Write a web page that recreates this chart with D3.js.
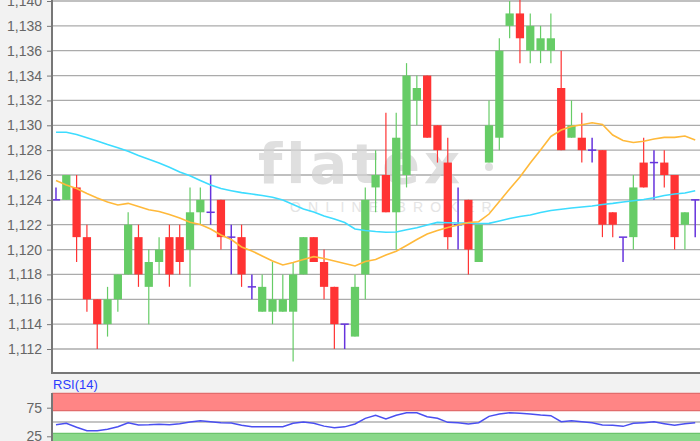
<!DOCTYPE html>
<html><head><meta charset="utf-8">
<script src="https://cdnjs.cloudflare.com/ajax/libs/d3/7.8.5/d3.min.js"></script>
<style>html,body{margin:0;padding:0;background:#f2f2f2;overflow:hidden}svg{display:block}</style>
</head><body><svg id="c" width="700" height="441"></svg>
<script>
// ---- data ----
const openV  = [1.124,1.124,1.125,1.121,1.116,1.114,1.116,1.118,1.121,1.117,1.119,1.121,1.121,1.120,1.123,1.123,1.124,1.121,1.121,1.117,1.115,1.115,1.115,1.115,1.118,1.121,1.119,1.117,1.114,1.113,1.118,1.125,1.126,1.123,1.126,1.132,1.134,1.130,1.127,1.122,1.124,1.119,1.127,1.129,1.138,1.139,1.136,1.136,1.136,1.133,1.129,1.129,1.128,1.128,1.123,1.121,1.121,1.127,1.127,1.127,1.126,1.122,1.124];
const highV  = [1.125,1.126,1.126,1.122,1.116,1.117,1.118,1.123,1.122,1.120,1.121,1.122,1.122,1.125,1.125,1.126,1.124,1.122,1.122,1.118,1.118,1.119,1.118,1.119,1.121,1.121,1.120,1.117,1.114,1.118,1.125,1.128,1.131,1.131,1.135,1.134,1.134,1.130,1.129,1.125,1.124,1.122,1.132,1.137,1.140,1.1405,1.139,1.138,1.139,1.136,1.132,1.131,1.129,1.128,1.123,1.121,1.126,1.129,1.128,1.128,1.126,1.123,1.124];
const lowV   = [1.124,1.124,1.119,1.115,1.112,1.113,1.115,1.118,1.117,1.114,1.118,1.117,1.118,1.117,1.122,1.122,1.120,1.118,1.117,1.116,1.115,1.114,1.115,1.111,1.118,1.119,1.116,1.112,1.112,1.113,1.116,1.123,1.123,1.120,1.125,1.130,1.129,1.127,1.120,1.120,1.118,1.119,1.127,1.128,1.137,1.135,1.135,1.135,1.135,1.128,1.129,1.127,1.127,1.121,1.121,1.119,1.120,1.125,1.124,1.125,1.120,1.120,1.121];
const closeV = [1.124,1.126,1.121,1.116,1.114,1.116,1.118,1.122,1.118,1.119,1.120,1.118,1.119,1.123,1.124,1.123,1.121,1.121,1.118,1.117,1.117,1.116,1.116,1.118,1.121,1.119,1.117,1.114,1.114,1.117,1.124,1.126,1.123,1.129,1.134,1.133,1.129,1.128,1.121,1.122,1.120,1.122,1.130,1.136,1.139,1.137,1.138,1.137,1.137,1.128,1.130,1.128,1.128,1.122,1.122,1.121,1.125,1.125,1.127,1.126,1.121,1.123,1.124];
const maShort = [1.12556,1.12520,1.12491,1.12451,1.12415,1.12383,1.12359,1.12372,1.12347,1.12321,1.12306,1.12282,1.12254,1.12219,1.12202,1.12166,1.12117,1.12081,1.12021,1.11989,1.11948,1.11908,1.11876,1.11896,1.11920,1.11943,1.11928,1.11908,1.11888,1.11868,1.11904,1.11920,1.11956,1.11987,1.12033,1.12081,1.12125,1.12153,1.12178,1.12198,1.12218,1.12224,1.12286,1.12387,1.12487,1.12584,1.12697,1.12801,1.12910,1.12962,1.12990,1.13004,1.13020,1.13006,1.12922,1.12878,1.12862,1.12871,1.12890,1.12903,1.12903,1.12914,1.12882];
const maLong = [1.12944,1.12944,1.12926,1.12900,1.12874,1.12845,1.12819,1.12791,1.12757,1.12726,1.12697,1.12662,1.12624,1.12594,1.12556,1.12520,1.12491,1.12474,1.12458,1.12447,1.12435,1.12421,1.12399,1.12363,1.12326,1.12302,1.12270,1.12246,1.12218,1.12166,1.12153,1.12145,1.12139,1.12141,1.12160,1.12176,1.12198,1.12219,1.12216,1.12214,1.12214,1.12210,1.12211,1.12230,1.12250,1.12266,1.12278,1.12298,1.12314,1.12324,1.12335,1.12343,1.12351,1.12363,1.12372,1.12383,1.12393,1.12403,1.12417,1.12435,1.12447,1.12455,1.12474];
const rsiV = [45.3,47.9,40.7,34.8,34.8,37.2,41.7,48.8,44.8,45.2,46.1,45.2,47.1,50.2,52.3,50.6,48.8,48.3,44.3,41.8,41.8,41.8,41.8,47.7,50,47.7,42.8,40.1,41.5,46.5,56.4,61.7,55.2,61.7,66.3,66.3,59.3,56.4,49.4,48.8,46.5,48.8,59.9,64,66.3,65.2,64,62.2,61.1,50.6,52.3,50.6,48.5,44.8,44.2,42.4,47.7,48.8,50.3,47.1,44.2,47.1,48.8];
const priceTicks = [1.112,1.114,1.116,1.118,1.120,1.122,1.124,1.126,1.128,1.130,1.132,1.134,1.136,1.138,1.140];
const rsiTicks = [75,25];
const rsiLabel = "RSI(14)";

// ---- layout ----
const svg = d3.select("#c");
const L = 52, R = 700, mainTop = 0, mainBot = 373, rsiTop = 393, rsiBot = 441;
const idx = d3.range(openV.length);
const x = d3.scaleBand().domain(idx).range([49.8, 701.4]).paddingInner(0.2).paddingOuter(0.2);
const y = d3.scaleLinear().domain([1.112, 1.140]).range([349, 1]);
const yr = d3.scaleLinear().domain([0, 100]).range([450.6, 393.4]);
const cx = i => x(i) + x.bandwidth() / 2;
const loc = d3.formatLocale({decimal: ",", thousands: ".", grouping: [3], currency: ["", "€"]});
const fmt = loc.format(".3f");

svg.append("defs").append("clipPath").attr("id", "mc")
  .append("rect").attr("x", L).attr("y", mainTop).attr("width", R - L).attr("height", mainBot - mainTop);

// main panel
svg.append("rect").attr("x", L).attr("y", mainTop).attr("width", R - L).attr("height", mainBot - mainTop).attr("fill", "#fff");
const grid = svg.append("g");
grid.selectAll("line").data(priceTicks).join("line")
  .attr("x1", L).attr("x2", R).attr("y1", d => y(d)).attr("y2", d => y(d))
  .attr("stroke", "#ababab").attr("stroke-width", 1.3);

// watermark
const wm = svg.append("g").attr("clip-path", "url(#mc)");
wm.append("text").attr("x", 258).attr("y", 183).text("flatex")
  .attr("font-family", "'DejaVu Sans', sans-serif").attr("font-weight", "bold").attr("font-size", 56)
  .attr("letter-spacing", 4).attr("fill", "#d2d2d2").attr("opacity", 0.7);
wm.append("circle").attr("cx", 489).attr("cy", 167).attr("r", 4).attr("fill", "#d2d2d2").attr("opacity", 0.7);
wm.append("text").attr("x", 290).attr("y", 212).text("ONLINE BROKER")
  .attr("font-family", "'Liberation Sans', Arial, sans-serif").attr("font-size", 14)
  .attr("letter-spacing", 7.2).attr("fill", "#e4e4e4");

// y axis
const ya = svg.append("g").attr("transform", `translate(${L},0)`)
  .call(d3.axisLeft(y).tickValues(priceTicks).tickFormat(fmt).tickSize(5).tickPadding(5));
ya.select(".domain").remove();
ya.selectAll(".tick line").attr("stroke", "#777");
ya.selectAll(".tick text").attr("fill", "#666").attr("font-size", 14).attr("font-family", "'Liberation Sans', Arial, sans-serif");

// candles
const cg = svg.append("g").attr("clip-path", "url(#mc)");
const colorOf = i => closeV[i] > openV[i] ? "#66cc66" : (closeV[i] < openV[i] ? "#ff3333" : "#6633dd");
cg.selectAll("line.wick").data(idx).join("line").attr("class", "wick")
  .attr("x1", cx).attr("x2", cx).attr("y1", i => y(highV[i])).attr("y2", i => y(lowV[i]))
  .attr("stroke", colorOf).attr("stroke-width", i => openV[i] === closeV[i] ? 1.5 : 1.2);
cg.selectAll("rect.body").data(idx.filter(i => openV[i] !== closeV[i])).join("rect").attr("class", "body")
  .attr("x", i => x(i)).attr("width", x.bandwidth())
  .attr("y", i => y(Math.max(openV[i], closeV[i])))
  .attr("height", i => Math.abs(y(openV[i]) - y(closeV[i])))
  .attr("fill", colorOf);
cg.selectAll("line.doji").data(idx.filter(i => openV[i] === closeV[i])).join("line").attr("class", "doji")
  .attr("x1", i => x(i)).attr("x2", i => x(i) + x.bandwidth())
  .attr("y1", i => y(openV[i])).attr("y2", i => y(openV[i]))
  .attr("stroke", "#6633dd").attr("stroke-width", 1.5);

// moving averages
const line = d3.line().x((d, i) => cx(i)).y(d => y(d));
cg.append("path").datum(maLong).attr("d", line).attr("fill", "none").attr("stroke", "#3ddcff").attr("stroke-width", 1.6);
cg.append("path").datum(maShort).attr("d", line).attr("fill", "none").attr("stroke", "#ffb93a").attr("stroke-width", 1.6);

// main frame
svg.append("line").attr("x1", L).attr("x2", L).attr("y1", 0).attr("y2", mainBot).attr("stroke", "#777").attr("stroke-width", 2);
svg.append("line").attr("x1", L - 1).attr("x2", R).attr("y1", mainBot).attr("y2", mainBot).attr("stroke", "#777").attr("stroke-width", 2);

// RSI panel
svg.append("rect").attr("x", L).attr("y", rsiTop).attr("width", R - L).attr("height", rsiBot - rsiTop + 20).attr("fill", "#fff");
svg.append("rect").attr("x", L).attr("y", yr(100)).attr("width", R - L).attr("height", yr(70) - yr(100)).attr("fill", "#ff8585");
svg.append("rect").attr("x", L).attr("y", yr(30)).attr("width", R - L).attr("height", yr(0) - yr(30)).attr("fill", "#8ad88a");
[[100, "#e26c6c"], [70, "#e26c6c"], [30, "#6cc46c"], [50, "#b0b0b0"]].forEach(([v, c]) =>
  svg.append("line").attr("x1", L).attr("x2", R).attr("y1", yr(v)).attr("y2", yr(v)).attr("stroke", c).attr("stroke-width", 1.3));
svg.append("path").datum(rsiV).attr("fill", "none").attr("stroke", "#4a4ff0").attr("stroke-width", 1.5)
  .attr("d", d3.line().x((d, i) => cx(i)).y(d => yr(d)));
const ra = svg.append("g").attr("transform", `translate(${L},0)`)
  .call(d3.axisLeft(yr).tickValues(rsiTicks).tickSize(5).tickPadding(5));
ra.select(".domain").remove();
ra.selectAll(".tick line").attr("stroke", "#777");
ra.selectAll(".tick text").attr("fill", "#666").attr("font-size", 14).attr("font-family", "'Liberation Sans', Arial, sans-serif");
svg.append("line").attr("x1", L).attr("x2", L).attr("y1", rsiTop).attr("y2", rsiBot).attr("stroke", "#777").attr("stroke-width", 2);
svg.append("text").attr("x", 53).attr("y", 389).text(rsiLabel)
  .attr("fill", "#2b3cff").attr("font-size", 13).attr("font-family", "'Liberation Sans', Arial, sans-serif");
</script></body></html>
